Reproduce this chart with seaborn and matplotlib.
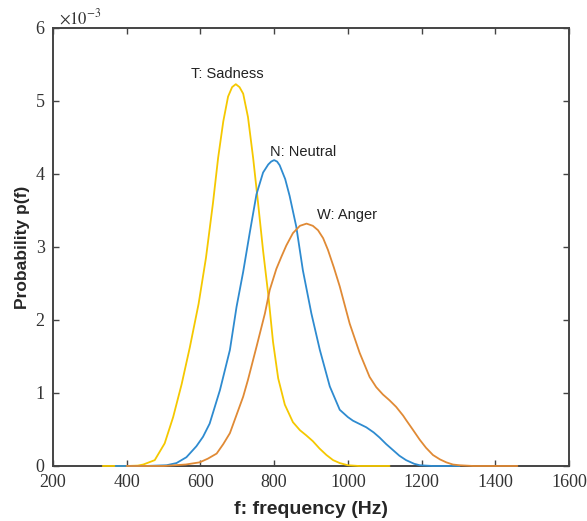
import matplotlib
matplotlib.use("Agg")
import matplotlib.pyplot as plt
import seaborn as sns
import pandas as pd

# values (frequency in Hz, density in units of 1e-3)
sad_f = [335, 400, 430, 445, 476, 503, 526, 549, 571, 595, 615, 634, 648, 662, 675, 686, 696, 706,
         716, 729, 743, 756, 770, 784, 797, 811, 829, 851, 870, 887, 905, 923, 942, 960, 978, 1000, 1030, 1113]
sad_p = [0, 0, 0.005, 0.02, 0.08, 0.31, 0.67, 1.12, 1.62, 2.22, 2.85, 3.60, 4.22, 4.72, 5.06, 5.19, 5.23, 5.19,
         5.10, 4.78, 4.22, 3.62, 2.95, 2.35, 1.70, 1.20, 0.84, 0.60, 0.49, 0.42, 0.34, 0.24, 0.15, 0.08, 0.04, 0.01, 0, 0]

neu_f = [370, 450, 508, 535, 562, 589, 607, 625, 653, 680, 698, 716, 734, 752, 770, 784, 792, 800, 808, 815, 830, 842,
         860, 878, 901, 924, 951, 978, 1000, 1014, 1050, 1070, 1086, 1104, 1122, 1140, 1158, 1180, 1195, 1230, 1303]
neu_p = [0, 0, 0.01, 0.04, 0.12, 0.27, 0.40, 0.58, 1.04, 1.59, 2.18, 2.66, 3.20, 3.72, 4.02, 4.13, 4.17, 4.19, 4.17, 4.12, 3.93, 3.70,
         3.28, 2.68, 2.09, 1.59, 1.09, 0.77, 0.67, 0.62, 0.53, 0.46, 0.39, 0.30, 0.22, 0.14, 0.08, 0.03, 0.01, 0, 0]

ang_f = [400, 500, 560, 598, 620, 644, 662, 680, 698, 716, 729, 752, 775, 788, 806, 820, 833, 851, 870, 888, 905,
         919, 933, 946, 962, 978, 1005, 1032, 1059, 1077, 1095, 1113, 1131, 1150, 1158, 1176, 1195, 1212, 1231,
         1250, 1267, 1285, 1303, 1340, 1460]
ang_p = [0, 0, 0.02, 0.05, 0.10, 0.17, 0.30, 0.45, 0.70, 0.95, 1.18, 1.63, 2.09, 2.41, 2.70, 2.87, 3.02, 3.19, 3.29, 3.32, 3.29,
         3.23, 3.12, 2.96, 2.72, 2.46, 1.95, 1.55, 1.22, 1.08, 0.98, 0.90, 0.81, 0.69, 0.63, 0.50, 0.36, 0.25, 0.15,
         0.09, 0.05, 0.02, 0.01, 0, 0]

labels = ["T: Sadness", "N: Neutral", "W: Anger"]
colors = ["#F5C800", "#2E8BD0", "#E08A35"]

df = pd.concat([
    pd.DataFrame({"f": sad_f, "p": sad_p, "emo": labels[0]}),
    pd.DataFrame({"f": neu_f, "p": neu_p, "emo": labels[1]}),
    pd.DataFrame({"f": ang_f, "p": ang_p, "emo": labels[2]}),
])

sns.set_style("white")
plt.rcParams["mathtext.fontset"] = "stix"
fig = plt.figure(figsize=(5.87, 5.21), dpi=100)
ax = fig.add_axes([0.0903, 0.1056, 0.8790, 0.8407])

sns.lineplot(data=df, x="f", y="p", hue="emo", palette=dict(zip(labels, colors)),
             estimator=None, sort=True, linewidth=1.3, legend=False, ax=ax)
for ln in ax.get_lines():
    ln.set_zorder(3)
    ln.set_clip_on(False)
    ln.set_solid_joinstyle("round")

ax.set_xlim(200, 1600)
ax.set_ylim(0, 6)
ax.set_xticks(range(200, 1601, 200))
ax.set_yticks(range(0, 7))
ax.tick_params(direction="in", length=4, width=1, top=True, right=True, bottom=True, left=True,
               labelsize=13, labelcolor="#333333", color="#444444", pad=6)
for lab in ax.get_xticklabels() + ax.get_yticklabels():
    lab.set_family("Liberation Serif")
for s in ax.spines.values():
    s.set_color("#444444")
    s.set_linewidth(1.4)
    s.set_zorder(2.5)

ax.set_xlabel("f: frequency (Hz)", fontsize=14, fontweight="bold", family="Liberation Sans", labelpad=7)
ax.set_ylabel("Probability p(f)", fontsize=12.5, fontweight="bold", family="Liberation Sans", labelpad=4)

ax.text(0.012, 1.0, r"$\times10^{-3}$", transform=ax.transAxes, fontsize=12,
        color="#333333", va="bottom", ha="left")

# curve labels
ax.text(674, 5.28, labels[0], fontsize=10.5, ha="center", va="bottom", family="Liberation Sans", color="#222222")
ax.text(788, 4.2, labels[1], fontsize=10.5, ha="left", va="bottom", family="Liberation Sans", color="#222222")
ax.text(915, 3.34, labels[2], fontsize=10.5, ha="left", va="bottom", family="Liberation Sans", color="#222222")

fig.savefig("out.png", dpi=100)
